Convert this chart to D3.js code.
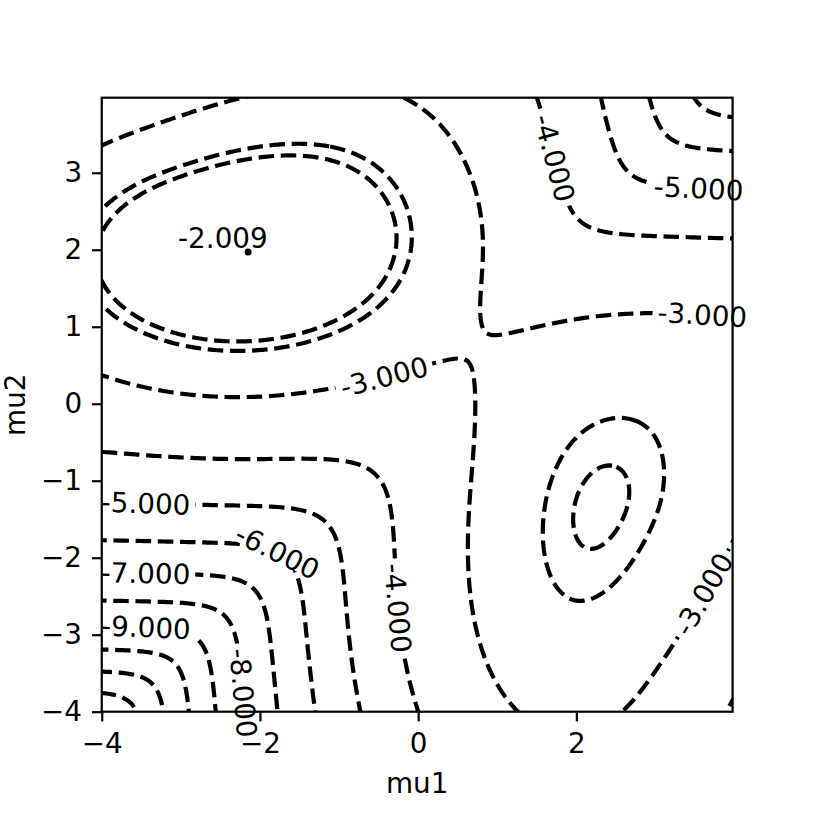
<!DOCTYPE html>
<html>
<head>
<meta charset="utf-8">
<script src="https://cdn.jsdelivr.net/npm/d3@7"></script>
<style>
body { margin: 0; background: #fff; }
text { font-family: "DejaVu Sans", sans-serif; }
</style>
</head>
<body>
<svg width="814" height="814"></svg>
<script>
// observations behind the likelihood surface
var samples = [-2.32, -2.32, -2.32, -2.32, -2.32, -0.10, 0.37, 0.95, 0.95,
               2.09, 2.09, 2.10, 2.10, 2.10, 2.10, 2.10, 4.03, 4.03];
// two component mixture: weights and common sd, the means are (mu1, mu2)
var mixWeights = [0.238, 0.762];
var mixSd = 1.068;

// contour levels (mean log-likelihood)
var levels = [-16, -15, -14, -13, -12, -11, -10, -9, -8, -7, -6, -5, -4, -3, -2.465, -2.378];
// inline labels: level and where it sits (mu1, mu2)
var labelLevels = [-3, -4, -5, -3, -5, -6, -7, -9, -8, -4, -3];
var labelMu1 = [-0.43, 1.60, 3.56, 3.60, -3.45, -1.80, -3.45, -3.45, -1.83, -0.10, 3.62];
var labelMu2 = [0.35, 3.16, 3.01, 1.32, -1.42, -1.96, -2.33, -3.04, -3.72, -2.64, -2.48];
// maximum
var peak = [-2.15, 1.97];
var peakValue = -2.009;

var xTicks = [-4, -2, 0, 2];
var yTicks = [-4, -3, -2, -1, 0, 1, 2, 3];

var fontSize = 27.8;
var svg = d3.select("svg");
var box = {left: 101.75, right: 732.6, top: 97.7, bottom: 711.7};

var xScale = d3.scaleLinear().domain([-4, 3.975]).range([box.left, box.right]);
var yScale = d3.scaleLinear().domain([-4, 3.975]).range([box.bottom, box.top]);

// mean log-likelihood of the samples for means (m1, m2)
var lw1 = Math.log(mixWeights[0] / (mixSd * Math.sqrt(2 * Math.PI)));
var lw2 = Math.log(mixWeights[1] / (mixSd * Math.sqrt(2 * Math.PI)));
function loglik(m1, m2) {
    var acc = 0;
    samples.forEach(function (x) {
        var e1 = lw1 - 0.5 * Math.pow((x - m1) / mixSd, 2);
        var e2 = lw2 - 0.5 * Math.pow((x - m2) / mixSd, 2);
        var mx = Math.max(e1, e2);
        acc += mx + Math.log(Math.exp(e1 - mx) + Math.exp(e2 - mx));
    });
    return acc / samples.length;
}

// grid a bit wider than the axes, so the closing edges fall outside the clip
var lo = -4.3, step = 0.04, n = Math.round(8.6 / step) + 1;
var values = new Float64Array(n * n);
for (var r = 0; r < n; r++) {
    for (var c = 0; c < n; c++) {
        values[r * n + c] = loglik(lo + c * step, lo + r * step);
    }
}
var off = 0.5; // d3.contours puts grid value i at i + .5

var contours = d3.contours().size([n, n]).thresholds(levels)(values);

var line = d3.line()
    .x(function (p) { return xScale(lo + (p[0] - off) * step); })
    .y(function (p) { return yScale(lo + (p[1] - off) * step); });

var defs = svg.append("defs");
defs.append("clipPath").attr("id", "clip")
    .append("rect")
    .attr("x", box.left).attr("y", box.top)
    .attr("width", box.right - box.left).attr("height", box.bottom - box.top);
var mask = defs.append("mask").attr("id", "labelmask")
    .attr("maskUnits", "userSpaceOnUse")
    .attr("x", 0).attr("y", 0).attr("width", 814).attr("height", 814);
mask.append("rect").attr("width", 814).attr("height", 814).attr("fill", "#fff");

var lines_g = svg.append("g").attr("mask", "url(#labelmask)")
    .append("g").attr("clip-path", "url(#clip)");

contours.forEach(function (cset) {
    cset.coordinates.forEach(function (poly) {
        poly.forEach(function (ring) {
            lines_g.append("path")
                .attr("d", line(ring))
                .attr("fill", "none")
                .attr("stroke", "#000")
                .attr("stroke-width", 4.2)
                .attr("stroke-dasharray", "15.5,6.7");
        });
    });
});

// frame
svg.append("rect")
    .attr("x", box.left).attr("y", box.top)
    .attr("width", box.right - box.left).attr("height", box.bottom - box.top)
    .attr("fill", "none").attr("stroke", "#000").attr("stroke-width", 2.2);

// axes
var xAxis = d3.axisBottom(xScale).tickValues(xTicks).tickSize(9.7).tickPadding(11.9).tickSizeOuter(0);
var yAxis = d3.axisLeft(yScale).tickValues(yTicks).tickSize(9.7).tickPadding(10).tickSizeOuter(0);
var gX = svg.append("g").attr("transform", "translate(0," + box.bottom + ")").call(xAxis);
var gY = svg.append("g").attr("transform", "translate(" + box.left + ",0)").call(yAxis);
[gX, gY].forEach(function (g) {
    g.select(".domain").remove();
    g.selectAll("line").attr("stroke-width", 2.2);
    g.selectAll("text").attr("font-size", fontSize).attr("font-family", "DejaVu Sans").attr("fill", "#000");
});

svg.append("text").attr("x", (box.left + box.right) / 2).attr("y", 793)
    .attr("text-anchor", "middle").attr("font-size", fontSize).text("mu1");
svg.append("text").attr("transform", "translate(25," + (box.top + box.bottom) / 2 + ") rotate(-90)")
    .attr("text-anchor", "middle").attr("font-size", fontSize).text("mu2");

// inline contour labels, put on the line and turned along it
var kx = xScale(1) - xScale(0), ky = yScale(0) - yScale(1);
function grad(p) {
    var e = 1e-3;
    return [(loglik(p[0] + e, p[1]) - loglik(p[0] - e, p[1])) / (2 * e),
            (loglik(p[0], p[1] + e) - loglik(p[0], p[1] - e)) / (2 * e)];
}
var labels_g = svg.append("g");
labelLevels.forEach(function (lev, j) {
    var p = [labelMu1[j], labelMu2[j]];
    for (var it = 0; it < 5; it++) {
        var g = grad(p), gg = g[0] * g[0] + g[1] * g[1];
        var v = loglik(p[0], p[1]) - lev;
        p = [p[0] - v * g[0] / gg, p[1] - v * g[1] / gg];
    }
    var g2 = grad(p);
    var ang = Math.atan2(g2[0] / kx, g2[1] / ky) * 180 / Math.PI;
    if (ang > 90) ang -= 180;
    if (ang <= -90) ang += 180;
    var X = xScale(p[0]), Y = yScale(p[1]);
    var t = labels_g.append("text")
        .attr("transform", "translate(" + X + "," + Y + ") rotate(" + ang + ")")
        .attr("text-anchor", "middle").attr("dy", "0.36em")
        .attr("font-size", fontSize).text(lev.toFixed(3));
    var w = t.node().getComputedTextLength() + 10;
    mask.append("rect")
        .attr("x", -w / 2).attr("y", -9).attr("width", w).attr("height", 18)
        .attr("transform", "translate(" + X + "," + Y + ") rotate(" + ang + ")")
        .attr("fill", "#000");
});

// the maximum
svg.append("circle").attr("cx", xScale(peak[0])).attr("cy", yScale(peak[1])).attr("r", 3.5).attr("fill", "#000");
svg.append("text").attr("x", xScale(peak[0]) - 70).attr("y", yScale(peak[1]) - 4)
    .attr("font-size", fontSize).text(peakValue.toFixed(3));
</script>
</body>
</html>
